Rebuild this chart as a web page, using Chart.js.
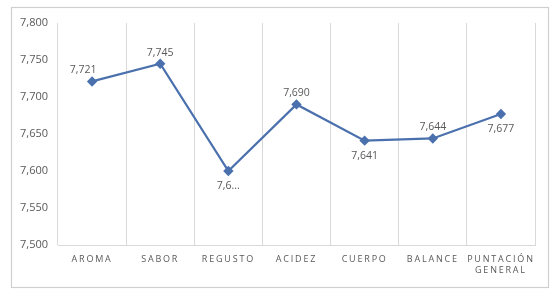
<!DOCTYPE html>
<html>
<head>
<meta charset="utf-8">
<script src="https://cdn.jsdelivr.net/npm/chart.js@4"></script>
<style>
html,body{margin:0;padding:0;background:#fff;}
#wrap{width:556px;height:295px;}
</style>
</head>
<body>
<div id="wrap"><canvas id="c" width="556" height="295"></canvas></div>
<script>
const categories = ["AROMA", "SABOR", "REGUSTO", "ACIDEZ", "CUERPO", "BALANCE", ["PUNTACIÓN", "GENERAL"]];
const values = [7.721, 7.745, 7.600, 7.690, 7.641, 7.644, 7.677];
const valueLabels = ["7,721", "7,745", "7,6...", "7,690", "7,641", "7,644", "7,677"];
const labelSide = ["above", "above", "below", "above", "below", "above", "below"];
const yMin = 7.5, yMax = 7.8, yStep = 0.05;

const fontFam = "'Open Sans', 'Liberation Sans', sans-serif";
const grey = '#595959';
const lineBlue = '#4a70ad';

const frame = {
  id: 'frame',
  afterDraw(chart) {
    const ctx = chart.ctx;
    ctx.save();
    ctx.strokeStyle = '#cfcfcf';
    ctx.lineWidth = 1.2;
    ctx.strokeRect(11.5, 7.5, 537, 280);
    ctx.restore();
  },
  afterLayout(chart) {
    const sx = chart.scales.x;
    if (sx && !sx._spaced) {
      const orig = sx.drawLabels.bind(sx);
      sx.drawLabels = function(area) {
        const ctx = this.ctx;
        ctx.save();
        ctx.letterSpacing = '1.8px';
        orig(area);
        ctx.restore();
      };
      sx._spaced = true;
    }
  }
};

const dataLabels = {
  id: 'dataLabels',
  afterDatasetsDraw(chart) {
    const ctx = chart.ctx;
    const meta = chart.getDatasetMeta(0);
    ctx.save();
    ctx.font = '10.5px ' + fontFam;
    ctx.fillStyle = grey;
    ctx.textAlign = 'center';
    ctx.textBaseline = 'middle';
    meta.data.forEach((pt, i) => {
      let dx = 0;
      if (i === 0) dx = -9;
      const dy = labelSide[i] === 'above' ? -11 : 15;
      ctx.fillText(valueLabels[i], pt.x + dx, pt.y + dy);
    });
    ctx.restore();
  }
};

new Chart(document.getElementById('c'), {
  type: 'line',
  data: {
    labels: categories,
    datasets: [{
      data: values,
      borderColor: lineBlue,
      backgroundColor: lineBlue,
      borderWidth: 2.25,
      pointStyle: 'rectRot',
      pointRadius: 3.6,
      pointHoverRadius: 3.6,
      pointBackgroundColor: lineBlue,
      pointBorderColor: lineBlue,
      tension: 0
    }]
  },
  options: {
    responsive: false,
    animation: false,
    events: [],
    layout: { padding: { left: 12, right: 21, top: 23, bottom: 8 } },
    plugins: { legend: { display: false }, tooltip: { enabled: false } },
    scales: {
      x: {
        offset: true,
        grid: { display: true, offset: true, color: '#d9d9d9', drawTicks: false, lineWidth: 1 },
        border: { display: true, color: '#d9d9d9' },
        ticks: {
          color: grey,
          font: { size: 9, family: fontFam },
          padding: 9,
          autoSkip: false,
          maxRotation: 0,
          minRotation: 0
        },
        afterFit(scale) { scale.height = 42; }
      },
      y: {
        min: yMin,
        max: yMax,
        grid: { display: false, drawTicks: false },
        border: { display: false },
        ticks: {
          stepSize: yStep,
          color: grey,
          font: { size: 11, family: fontFam },
          padding: 10,
          callback: (v) => Number(v).toFixed(3).replace('.', ',')
        },
        afterFit(scale) { scale.width = 46; }
      }
    }
  },
  plugins: [frame, dataLabels]
});
</script>
</body>
</html>
